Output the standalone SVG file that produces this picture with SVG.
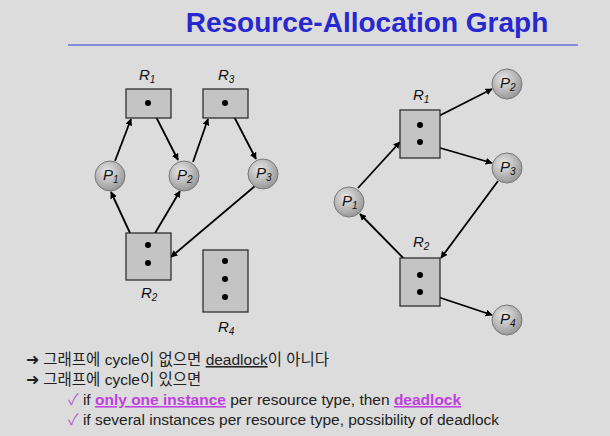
<svg xmlns="http://www.w3.org/2000/svg" width="610" height="436" viewBox="0 0 610 436">
<defs>
<marker id="ah" viewBox="0 0 10 10" refX="9" refY="5" markerWidth="7" markerHeight="7" orient="auto" markerUnits="userSpaceOnUse"><path d="M0,0 L10,5 L0,10 z" fill="#000"/></marker>
<radialGradient id="pg" cx="40%" cy="35%" r="65%"><stop offset="0" stop-color="#e8e8e8"/><stop offset="1" stop-color="#999"/></radialGradient>
</defs>
<style>
.box{fill:#c4c4c4;stroke:#222;stroke-width:1.2}
.proc{fill:url(#pg);stroke:#777;stroke-width:1}
.lbl{font-family:"Liberation Sans",sans-serif;font-style:italic;font-size:15px;fill:#111}
.sub{font-size:10px}
.e{stroke:#000;stroke-width:1.8;fill:none;marker-end:url(#ah)}
.t{font-family:"Liberation Sans","Noto Sans CJK KR",sans-serif;font-size:15.5px;fill:#222}
.pk{fill:#c040e0;font-weight:bold;text-decoration:underline}
</style>
<rect width="610" height="436" fill="#dcdcdc"/>
<text x="367" y="32" text-anchor="middle" font-family="Liberation Sans,sans-serif" font-weight="bold" font-size="28" fill="#2828d0">Resource-Allocation Graph</text>
<line x1="68" y1="45" x2="578" y2="45" stroke="#8888dd" stroke-width="2"/>
<g id="connectors">
<line class="e" x1="115" y1="161" x2="131" y2="119"/>
<line class="e" x1="150" y1="105" x2="178" y2="160"/>
<line class="e" x1="193" y1="162" x2="208" y2="119"/>
<line class="e" x1="228" y1="105" x2="256" y2="159"/>
<line class="e" x1="255" y1="186" x2="171" y2="257"/>
<line class="e" x1="148" y1="245" x2="180" y2="191"/>
<line class="e" x1="130" y1="233" x2="111" y2="192"/>
<line class="e" x1="358" y1="188" x2="400" y2="142"/>
<line class="e" x1="423" y1="124" x2="492" y2="89"/>
<line class="e" x1="423" y1="143" x2="492" y2="163"/>
<line class="e" x1="498" y1="181" x2="441" y2="258"/>
<line class="e" x1="418" y1="273" x2="360" y2="214"/>
<line class="e" x1="423" y1="292" x2="492" y2="315"/>
</g>
<g id="L_R1"><rect class="box" x="126" y="89" width="45" height="29"/><circle cx="148" cy="103" r="3"/><text class="lbl" x="139" y="80">R<tspan class="sub" dy="3">1</tspan></text></g>
<g id="L_R3"><rect class="box" x="203" y="89" width="45" height="29"/><circle cx="225" cy="103" r="3"/><text class="lbl" x="218" y="80">R<tspan class="sub" dy="3">3</tspan></text></g>
<g id="L_R2"><rect class="box" x="126" y="233" width="45" height="47"/><circle cx="148" cy="245" r="3"/><circle cx="148" cy="263" r="3"/><text class="lbl" x="141" y="298">R<tspan class="sub" dy="3">2</tspan></text></g>
<g id="L_R4"><rect class="box" x="203" y="250" width="45" height="62"/><circle cx="225" cy="261" r="3"/><circle cx="225" cy="279" r="3"/><circle cx="225" cy="297" r="3"/><text class="lbl" x="218" y="332">R<tspan class="sub" dy="3">4</tspan></text></g>
<g id="L_P1"><circle class="proc" cx="110" cy="176" r="15"/><text class="lbl" x="103" y="180">P<tspan class="sub" dy="3">1</tspan></text></g>
<g id="L_P2"><circle class="proc" cx="184" cy="176" r="15"/><text class="lbl" x="177" y="180">P<tspan class="sub" dy="3">2</tspan></text></g>
<g id="L_P3"><circle class="proc" cx="263" cy="174" r="15"/><text class="lbl" x="256" y="178">P<tspan class="sub" dy="3">3</tspan></text></g>
<g id="R_R1"><rect class="box" x="400" y="110" width="40" height="48"/><circle cx="420" cy="125" r="3"/><circle cx="420" cy="142" r="3"/><text class="lbl" x="413" y="100">R<tspan class="sub" dy="3">1</tspan></text></g>
<g id="R_R2"><rect class="box" x="400" y="258" width="40" height="48"/><circle cx="420" cy="275" r="3"/><circle cx="420" cy="292" r="3"/><text class="lbl" x="413" y="247">R<tspan class="sub" dy="3">2</tspan></text></g>
<g id="R_P1"><circle class="proc" cx="349" cy="202" r="15"/><text class="lbl" x="342" y="206">P<tspan class="sub" dy="3">1</tspan></text></g>
<g id="R_P2"><circle class="proc" cx="507" cy="84" r="15"/><text class="lbl" x="500" y="88">P<tspan class="sub" dy="3">2</tspan></text></g>
<g id="R_P3"><circle class="proc" cx="507" cy="168" r="15"/><text class="lbl" x="500" y="172">P<tspan class="sub" dy="3">3</tspan></text></g>
<g id="R_P4"><circle class="proc" cx="507" cy="320" r="15"/><text class="lbl" x="500" y="324">P<tspan class="sub" dy="3">4</tspan></text></g>
<g id="text">
<text class="t" x="26" y="365">➜ 그래프에 cycle이 없으면 <tspan text-decoration="underline">deadlock</tspan>이 아니다</text>
<text class="t" x="26" y="385">➜ 그래프에 cycle이 있으면</text>
<text class="t" x="68" y="405"><tspan fill="#b060d0">✓</tspan> if <tspan class="pk">only one instance</tspan> per resource type, then <tspan class="pk">deadlock</tspan></text>
<text class="t" x="68" y="425"><tspan fill="#b060d0">✓</tspan> if several instances per resource type, possibility of deadlock</text>
</g>
</svg>
